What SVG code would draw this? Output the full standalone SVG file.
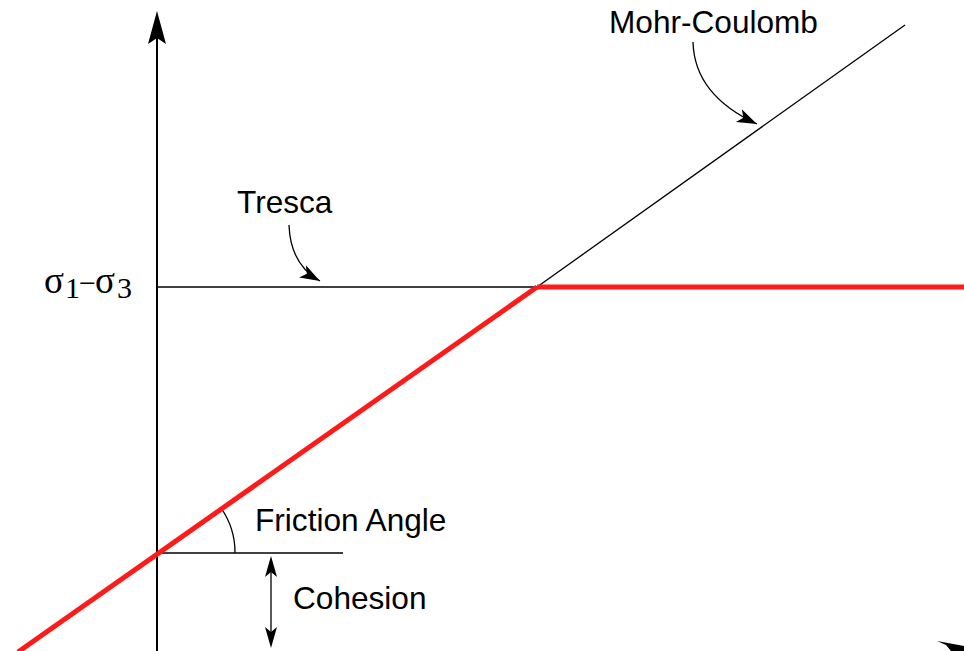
<svg xmlns="http://www.w3.org/2000/svg" width="964" height="651" viewBox="0 0 964 651">
<defs>
<style>
.thin{fill:none;stroke:#000;stroke-width:1.3}
.axis{fill:none;stroke:#000;stroke-width:2}
.red{fill:none;stroke:#ff1a1a;stroke-width:5}
.lbl{font-family:"Liberation Sans",Arial,sans-serif;font-size:31.6px;fill:#000}
.sig{font-family:"Liberation Serif","Times New Roman",serif;font-size:37px;fill:#000}
.sub{font-family:"Liberation Serif","Times New Roman",serif;font-size:30px;fill:#000}
</style>
<marker id="ah" markerUnits="userSpaceOnUse" markerWidth="24" markerHeight="16" viewBox="-21 -8 22 16" refX="0" refY="0" orient="auto">
<path d="M0,0 L-20,-7 L-15,0 L-20,7 z" fill="#000"/>
</marker>
</defs>
<rect width="964" height="651" fill="#fff"/>
<g id="connectors">
<line class="axis" x1="157" y1="651" x2="157" y2="36"/>
<polygon points="157,11 166,44 157,38 148,44" fill="#000"/>
<line class="thin" x1="157" y1="287" x2="537" y2="287"/>
<line class="thin" x1="537" y1="287" x2="905" y2="25"/>
<line class="thin" x1="157" y1="553" x2="343" y2="553"/>
<path class="thin" d="M235,553 A78,78 0 0 0 221,508"/>
<line class="red" x1="537" y1="287" x2="964" y2="287"/>
<line class="red" x1="537" y1="287" x2="18" y2="652"/>
<line class="thin" x1="271" y1="570" x2="271" y2="634"/>
<polygon points="271,556 277,577 271,572 265,577" fill="#000"/>
<polygon points="271,648 277,627 271,632 265,627" fill="#000"/>
<path class="thin" d="M693,42 C694,80 718,106 757,124" marker-end="url(#ah)"/>
<path class="thin" d="M289,225 C290,252 300,270 320,281" marker-end="url(#ah)"/>
<polygon points="937,641 964,646 964,651 951,651 946,645" fill="#000"/>
</g>
<g id="label-mohr"><text class="lbl" x="609" y="33">Mohr-Coulomb</text></g>
<g id="label-tresca"><text class="lbl" x="237" y="213">Tresca</text></g>
<g id="label-friction"><text class="lbl" x="255" y="531">Friction Angle</text></g>
<g id="label-cohesion"><text class="lbl" x="293" y="609">Cohesion</text></g>
<g id="label-sigma">
<text class="sig" x="44" y="293">σ</text>
<text class="sub" x="65" y="298">1</text>
<text class="sub" x="79" y="293">−</text>
<text class="sig" x="95" y="293">σ</text>
<text class="sub" x="117" y="298">3</text>
</g>
</svg>
